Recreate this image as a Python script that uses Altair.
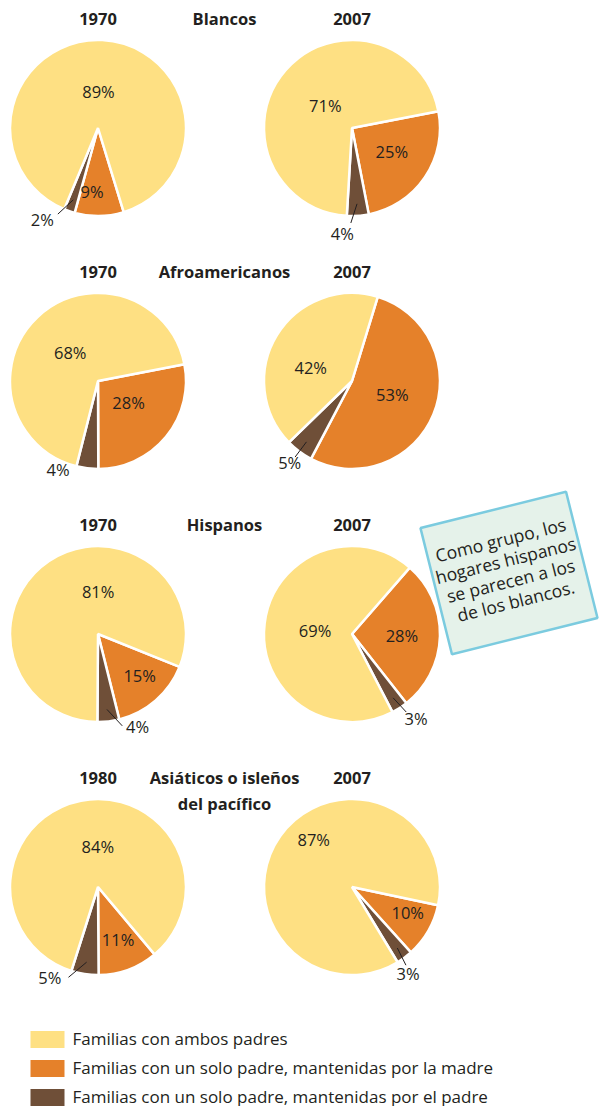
import math
import altair as alt
import pandas as pd

# ---------------- data ----------------
groups = ["Blancos", "Afroamericanos", "Hispanos", "Asiáticos o isleños\ndel pacífico"]
left_years = ["1970", "1970", "1970", "1980"]
right_years = ["2007", "2007", "2007", "2007"]

categories = [
    "Familias con ambos padres",
    "Familias con un solo padre, mantenidas por la madre",
    "Familias con un solo padre, mantenidas por el padre",
]
colors = ["#FEE083", "#E5812A", "#6F4F38"]

# pies in reading order (row by row, left then right)
ambos = [89, 71, 68, 42, 81, 69, 84, 87]
madre = [9, 25, 28, 53, 15, 28, 11, 10]
padre = [2, 4, 4, 5, 4, 3, 5, 3]

note_lines = ["Como grupo, los", "hogares hispanos", "se parecen a los", "de los blancos."]

# ---------------- layout / style ----------------
# rotation (degrees clockwise from 12 o'clock) where the "madre" slice begins
rotations = [163, 79, 79, 17, 112, 41, 140, 102]
# label radius (px) and angular nudge (deg) per slice kind, per pie
lab_r_ambos = [35, 34, 39, 43, 41, 37, 39, 60]
lab_r_madre = [65, 47, 38, 43, 60, 50, 58, 62]
lab_r_padre = [108, 107, 98, 104, 102, 107, 104, 104]
nudge_ambos = [-2, -3, -2, -15, 34, -4, 11, 15]
nudge_madre = [6, -2, -3, -2, -3, 2, 0, -4]
nudge_padre = [12, 9, 17, 0, -16, -4, 19, 4]
leader_shown = [1, 1, 0, 1, 1, 1, 1, 1]

FONT = "Open Sans"
TXT = "#231f20"
R = 88
W = 176

color_enc = alt.Color("cat:N", scale=alt.Scale(domain=categories, range=colors), legend=None)


def pie(i, year, group=None, note=False):
    df = pd.DataFrame({
        "cat": [categories[1], categories[2], categories[0]],
        "value": [madre[i], padre[i], ambos[i]],
        "order": [0, 1, 2],
        "lab_r": [lab_r_madre[i], lab_r_padre[i], lab_r_ambos[i]],
        "nudge": [nudge_madre[i], nudge_padre[i], nudge_ambos[i]],
        "leader": [0, leader_shown[i], 0],
    })
    rot_deg = rotations[i]
    rot = math.radians(rot_deg)
    tscale = alt.Scale(domain=[0, 100], range=[rot, rot + 2 * math.pi])
    c = W / 2
    base = alt.Chart(df).transform_window(
        cumend="sum(value)", sort=[alt.SortField("order")], frame=[None, 0]
    ).transform_calculate(
        cumstart="datum.cumend - datum.value",
        mid="datum.cumend - datum.value / 2",
    ).transform_calculate(
        lt="datum.mid + datum.nudge / 3.6",
        a1=f"({rot_deg} + 3.6 * datum.mid) * PI / 180",
        a2=f"({rot_deg} + 3.6 * datum.mid + 0.5 * datum.nudge) * PI / 180",
        label="datum.value + '%'",
    ).transform_calculate(
        lx1=f"{c} + 76 * sin(datum.a1)",
        ly1=f"{c} - 76 * cos(datum.a1)",
        lx2=f"{c} + 95 * sin(datum.a2)",
        ly2=f"{c} - 95 * cos(datum.a2)",
    )
    arcs = base.mark_arc(stroke="white", strokeWidth=2.5, strokeJoin="bevel", radius=R).encode(
        theta=alt.Theta("cumstart:Q", scale=tscale),
        theta2="cumend:Q",
        color=color_enc,
    )
    labels = base.mark_text(font=FONT, fontSize=16.5, color=TXT).encode(
        theta=alt.Theta("lt:Q", scale=tscale),
        radius=alt.Radius("lab_r:Q", scale=None),
        text="label:N",
    )
    leaders = base.transform_filter("datum.leader == 1").mark_rule(
        color=TXT, strokeWidth=1
    ).encode(
        x=alt.X("lx1:Q", scale=None, axis=None),
        y=alt.Y("ly1:Q", scale=None, axis=None),
        x2="lx2:Q",
        y2="ly2:Q",
    )
    year_t = alt.Chart(pd.DataFrame({"t": [year]})).mark_text(
        font=FONT, fontSize=16.5, fontWeight="bold", color=TXT, baseline="alphabetic"
    ).encode(text="t:N", x=alt.value(c), y=alt.value(-15))
    layers = [arcs, leaders, labels, year_t]
    if group is not None:
        g = alt.Chart(pd.DataFrame({"t": [group]})).mark_text(
            font=FONT, fontSize=16.5, fontWeight="bold", color=TXT, baseline="alphabetic",
            lineBreak="\n", lineHeight=26
        ).encode(text="t:N", x=alt.value(W + 38.5), y=alt.value(-15))
        layers.append(g)
    if note:
        ndf = pd.DataFrame({"t": ["\n".join(note_lines)]})
        box = alt.Chart(ndf).mark_point(
            shape="M-1,-0.8667L1,-0.8667L1,0.8667L-1,0.8667Z", size=150 ** 2, filled=True,
            fill="#E5F2EA", stroke="#7BCBDF", strokeWidth=2.5, strokeJoin="bevel",
            angle=346, opacity=1,
        ).encode(x=alt.value(245), y=alt.value(27))
        ntext = alt.Chart(ndf).mark_text(
            font=FONT, fontSize=17.5, color=TXT, angle=346, lineBreak="\n", lineHeight=21,
            align="center", baseline="middle",
        ).encode(text="t:N", x=alt.value(237), y=alt.value(-4.5))
        layers += [box, ntext]
    return alt.layer(*layers).properties(width=W, height=W)


cells = []
for r in range(4):
    cells.append(pie(2 * r, left_years[r], group=groups[r]))
    cells.append(pie(2 * r + 1, right_years[r], note=(r == 2)))

leg_df = pd.DataFrame({"cat": categories})
ly = alt.Y("cat:N", sort=categories, axis=None, scale=alt.Scale(padding=0, range=[-12.5, 45.5]))
leg_sym = alt.Chart(leg_df).mark_point(
    shape="M-1,-0.5L1,-0.5L1,0.5L-1,0.5Z", size=34 ** 2, filled=True, opacity=1, strokeWidth=0
).encode(x=alt.value(37.5), y=ly, color=color_enc)
leg_txt = alt.Chart(leg_df).mark_text(
    font=FONT, fontSize=17, color=TXT, align="left", baseline="middle"
).encode(x=alt.value(62.5), y=ly, text="cat:N")
legend = alt.layer(leg_sym, leg_txt).properties(width=W, height=40)
cells.append(legend)

chart = alt.concat(
    *cells, columns=2, spacing={"row": 77, "column": 78}, bounds="flush"
).resolve_scale(theta="independent").properties(
    padding={"left": 0, "top": 4, "right": 0, "bottom": 0},
    background="white",
).configure_view(stroke=None)

chart.save("out.html", embed_options={"renderer": "svg", "actions": False})
